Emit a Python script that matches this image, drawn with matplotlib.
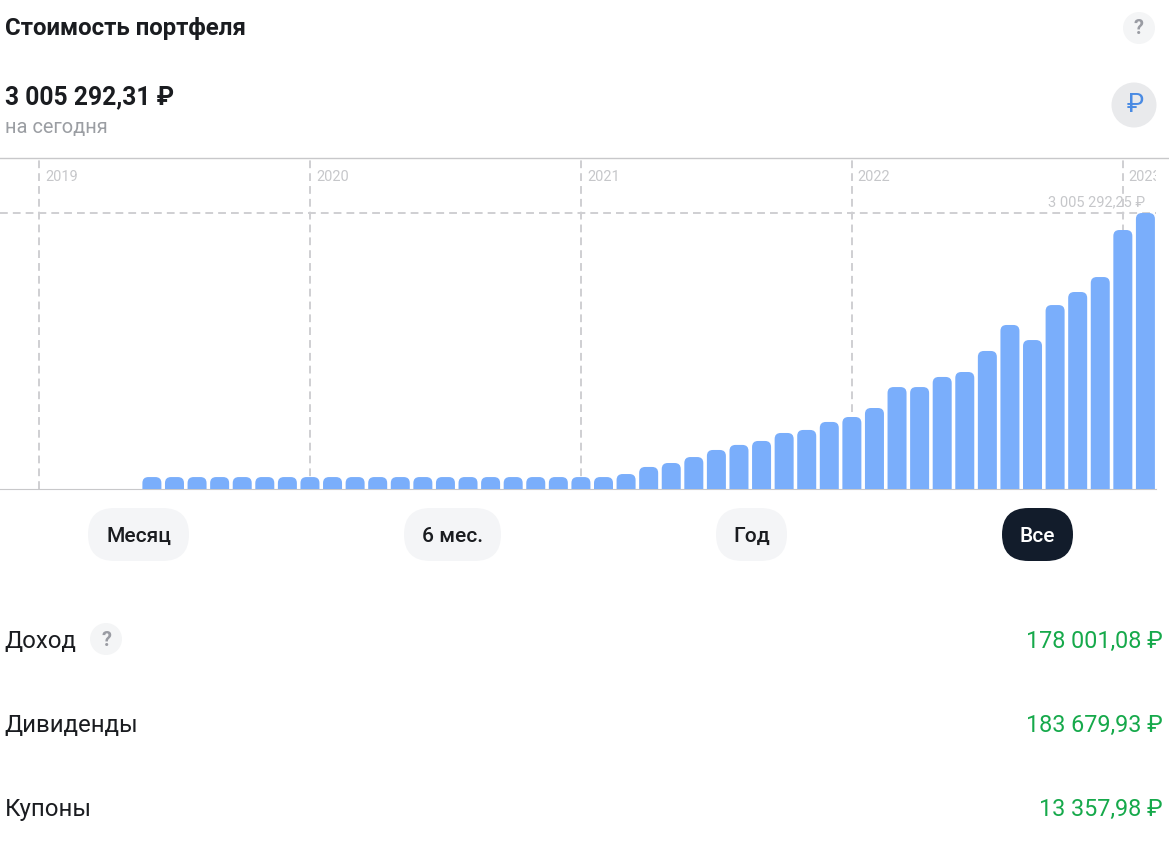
import matplotlib
matplotlib.use('Agg')
import matplotlib.pyplot as plt
from matplotlib.patches import FancyBboxPatch, Circle

plt.rcParams['font.family'] = ['Roboto', 'DejaVu Sans']

# portfolio value per month, first bar is June 2019
values = [130000] * 21 + [163000, 240000, 283000, 348000, 425000, 480000, 523000, 610000,
                          643000, 730000, 784000, 882000, 1110000, 1110000, 1220000, 1274000,
                          1503000, 1786000, 1622000, 2003000, 2145000, 2308000, 2820000, 3005292]
first_month = 5
year_labels = ['2019', '2020', '2021', '2022', '2023']
year_months = [0, 12, 24, 36, 48]
top_value = 3005292
top_label = '3 005 292,25 ₽'

buttons = ['Месяц', '6 мес.', 'Год', 'Все']
rows = ['Доход', 'Дивиденды', 'Купоны']
row_values = ['178 001,08 ₽', '183 679,93 ₽', '13 357,98 ₽']

W, H = 1169, 847
BAR = '#7aaefb'
GRID = '#cfcfd2'
DARK = '#1a1c20'
GREEN = '#16a94b'

fig = plt.figure(figsize=(W / 100, H / 100), dpi=100)

# page level elements are placed in pixels
ui = fig.add_axes([0, 0, 1, 1])
ui.set_xlim(0, W)
ui.set_ylim(H, 0)
ui.axis('off')


def px(size):
    return size * 0.72


def pill(x0, x1, y0, y1, color):
    r = (y1 - y0) / 2
    ui.add_patch(FancyBboxPatch((x0 + r, y0 + r), x1 - x0 - 2 * r, 0,
                                boxstyle='round,pad=%f' % r, fc=color, ec='none'))


ui.text(5, 29, 'Стоимость портфеля', fontsize=px(24), fontweight='bold', color=DARK, va='center')
ui.text(5, 97, '3 005 292,31 ₽', fontsize=px(24.6), fontweight='bold', color=DARK, va='center')
ui.text(5, 128, 'на сегодня', fontsize=px(20), color='#9b9ea3', va='center')

ui.add_patch(Circle((1139, 28), 16, fc='#f4f5f6', ec='none'))
ui.text(1139, 29, '?', fontsize=px(20), fontweight='bold', color='#9a9ca3', ha='center', va='center')
ui.add_patch(Circle((1134, 105), 22.5, fc='#e9eaec', ec='none'))
ui.text(1135.5, 105, '₽', fontsize=px(26), color='#4a8be3', ha='center', va='center')

ui.plot([0, W], [158.5, 158.5], color='#c8c8ca', lw=1)

pills = [(88, 189), (404, 501), (716, 787), (1002, 1073)]
for name, (x0, x1) in zip(buttons, pills):
    active = name == 'Все'
    pill(x0, x1, 508, 561, '#121c2b' if active else '#f4f5f7')
    ui.text((x0 + x1) / 2, 536.5, name, fontsize=px(21), color='white' if active else DARK,
            ha='center', va='center', fontweight='medium')

for name, amount, y in zip(rows, row_values, [641.5, 725.5, 809.5]):
    ui.text(4.5, y, name, fontsize=px(24), color=DARK, va='center')
    ui.text(1163, y, amount, fontsize=px(23.4), color=GREEN, ha='right', va='center')
ui.add_patch(Circle((106, 639), 16, fc='#f4f5f6', ec='none'))
ui.text(106, 640, '?', fontsize=px(20), fontweight='bold', color='#9a9ca3', ha='center', va='center')

# chart area runs from x=0 to x=1156, y=158 to y=489
ax = fig.add_axes([0, 1 - 489 / H, 1156 / W, 331 / H])
ax.patch.set_alpha(0)
month_px = 22.58
value_per_px = top_value / 276
ax.set_xlim(-39 / month_px, (1156 - 39) / month_px)
ax.set_ylim(0, 331 * value_per_px)
for s in ax.spines.values():
    s.set_visible(False)
ax.spines['bottom'].set_visible(True)
ax.spines['bottom'].set_color('#c8c8ca')
ax.set_xticks([])
ax.set_yticks([])

months = [first_month + i for i in range(len(values))]
bars = ax.bar(months, values, width=19 / month_px, color=BAR, zorder=3)
# rounded tops, the bottom corners hang below the axis and get clipped
radius = 6 / month_px
hang = 12 * value_per_px
for bar in bars:
    ax.add_patch(FancyBboxPatch((bar.get_x(), -hang), bar.get_width(),
                                bar.get_height() + hang,
                                boxstyle='round,pad=0,rounding_size=%f' % radius,
                                mutation_aspect=value_per_px * month_px,
                                fc=BAR, ec='none', zorder=3))
    bar.set_visible(False)

for label, m in zip(year_labels, year_months):
    ax.axvline(m, color=GRID, lw=1.4, ls=(0, (4, 2.6)), zorder=1)
    ax.annotate(label, (m, (489 - 177) / 331), xycoords=('data', 'axes fraction'),
                xytext=(4.3, 0), textcoords='offset points', fontsize=px(14.5),
                color='#c6c7ca', va='center', clip_on=True, annotation_clip=False)

ax.axhline(top_value, color=GRID, lw=1.4, ls=(0, (4, 2.6)), zorder=1)
ax.annotate(top_label, (months[-1], top_value), xytext=(0, 8), textcoords='offset points',
            fontsize=px(14.6), color='#c6c7ca', ha='right', va='center', zorder=2)

fig.savefig('out.png', dpi=100)
